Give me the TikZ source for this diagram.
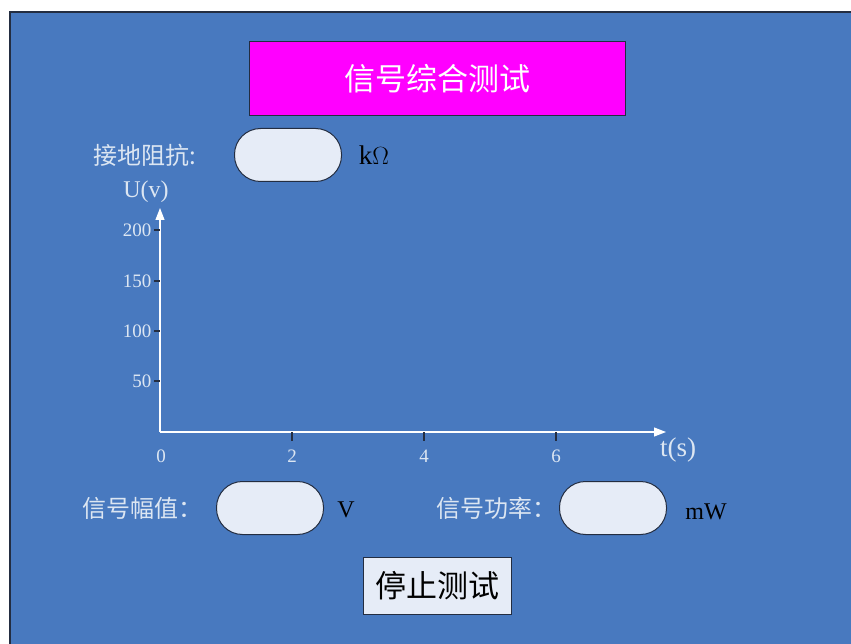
\documentclass[tikz,border=0pt]{standalone}
\usepackage{fontspec}
\setmainfont{Liberation Serif}
\newfontfamily\cjk{Noto Sans CJK SC}
\usetikzlibrary{arrows.meta}
\definecolor{panel}{RGB}{72,121,191}
\definecolor{pale}{RGB}{220,230,242}
\definecolor{field}{RGB}{230,236,247}
\definecolor{edge}{RGB}{35,45,65}
\definecolor{titlefill}{RGB}{255,0,255}
\tikzset{
  lbl/.style={text=pale,font=\cjk\fontsize{24}{24}\selectfont},
  fld/.style={draw=edge,line width=1pt,fill=field,rounded corners=26pt,minimum width=107pt,minimum height=53pt},
  unitlbl/.style={text=black,font=\fontsize{24}{24}\selectfont},
  num/.style={text=pale,font=\fontsize{19}{19}\selectfont},
  axis/.style={white,line width=1.2pt,-{Triangle[width=9pt,length=12pt]}}
}
\begin{document}
\begin{tikzpicture}[x=1pt,y=-1pt]
  \useasboundingbox(0,0)rectangle(851,644);
  \filldraw[fill=panel,draw=edge,line width=1.2pt](10,12)rectangle(860,660);
  \node[draw=edge,line width=1pt,fill=titlefill,minimum width=376pt,minimum height=74pt,text=white,font=\cjk\fontsize{31}{31}\selectfont](title)at(437,79){信号综合测试};
  \node[lbl](rlbl)at(145,155){接地阻抗:};
  \node[fld](rfld)at(288,155){};
  \node[unitlbl,font=\fontsize{27}{27}\selectfont](runit)at(374,155){k$\Omega$};
  \node[text=pale,font=\fontsize{24}{24}\selectfont](ulbl)at(146,192){U(v)};
  \coordinate(o)at(160,432);
  \coordinate(ytop)at(160,208);
  \coordinate(xend)at(666,432);
  \draw[axis](o)--(ytop);
  \draw[axis](o)--(xend);
  \foreach \v/\y in {200/230,150/281,100/331,50/381}{
    \draw[edge,line width=1.2pt](154,\y)--(160,\y);
    \node[num,anchor=east](y\v)at(155,\y){\v};
  }
  \node[num](x0)at(161,456){0};
  \foreach \t/\x in {2/292,4/424,6/556}{
    \draw[edge,line width=1.2pt](\x,432)--(\x,441);
    \node[num](x\t)at(\x,456){\t};
  }
  \node[text=pale,font=\fontsize{27}{27}\selectfont](tlbl)at(678,450){t(s)};
  \node[lbl](albl)at(142,508){信号幅值：};
  \node[fld](afld)at(270,508){};
  \node[unitlbl](aunit)at(346,510){V};
  \node[lbl](plbl)at(496,508){信号功率：};
  \node[fld](pfld)at(613,508){};
  \node[unitlbl](punit)at(706,512){mW};
  \node[draw=edge,line width=1pt,fill=field,minimum width=148pt,minimum height=57pt,text=black,font=\cjk\fontsize{31}{31}\selectfont](stop)at(437,586){停止测试};
\end{tikzpicture}
\end{document}
